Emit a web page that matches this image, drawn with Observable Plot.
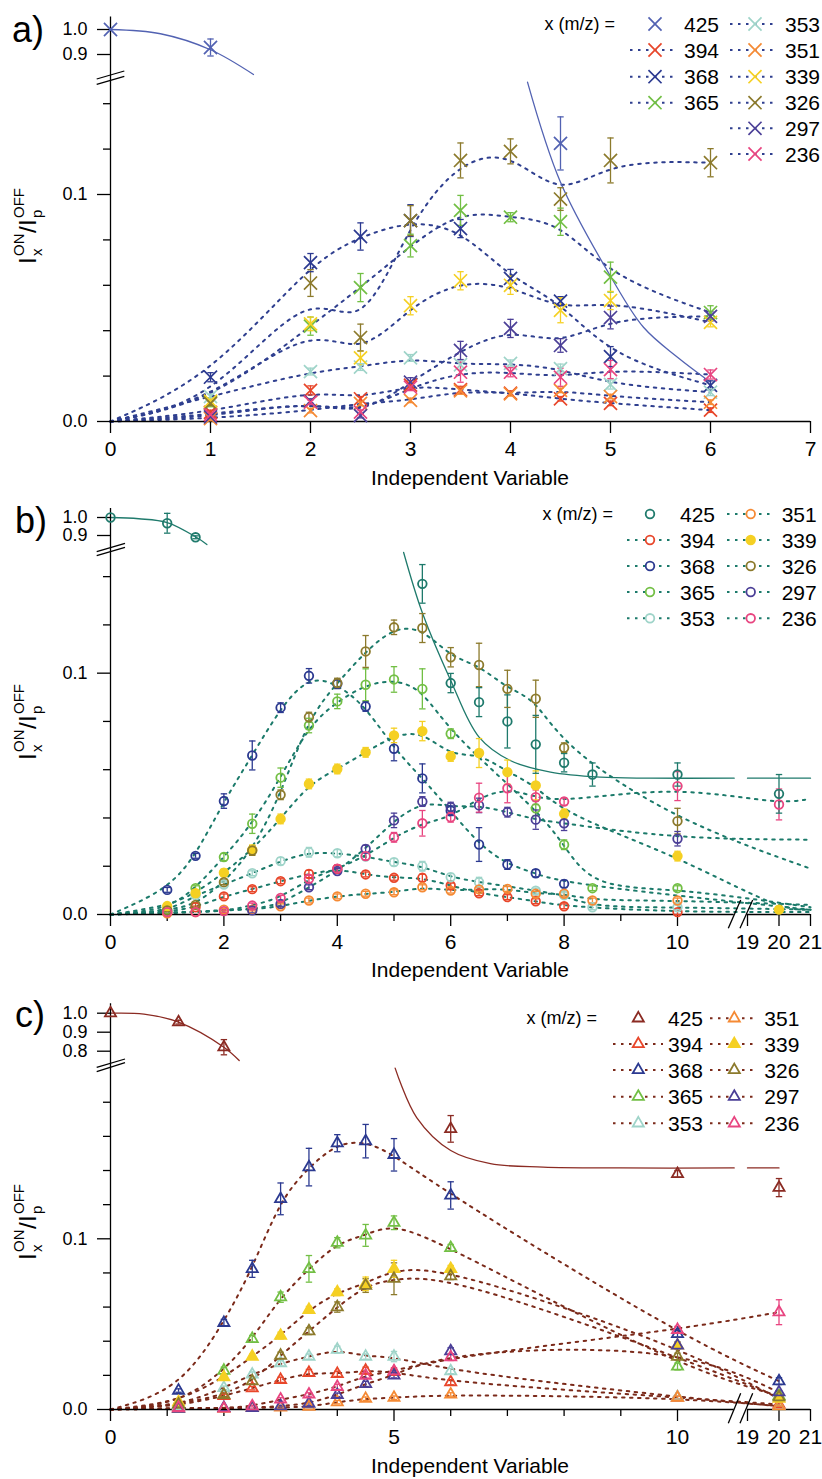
<!DOCTYPE html>
<html><head><meta charset="utf-8">
<script src="https://cdn.jsdelivr.net/npm/d3@7"></script>
<script src="https://cdn.jsdelivr.net/npm/@observablehq/plot@0.6"></script>
<style>
body{margin:0;background:#fff;width:822px;}
#chart svg{display:block;overflow:visible;}
</style></head><body><div id="chart"></div>
<script>
// ---------------- series identity ----------------
const keys9 = ["394","368","365","353","351","339","326","297","236"];
const seriesColor = {"394":"#e8462a","368":"#2b3990","365":"#72bf44","353":"#9fd4c9","351":"#f58a34","339":"#f5d023","326":"#8c7a2c","297":"#4b3f97","236":"#e84580"};
const color425 = {a:"#5262b2", b:"#1f7a6c", c:"#8b2b23"};
const lineColor = {a:"#2f3f8f", b:"#1b7a6a", c:"#7b2a1a"};

// ---------------- panel a ----------------
const aX = [1, 2, 2.5, 3, 3.5, 4, 4.5, 5, 6];
const a394 = [0.004, 0.0137, 0.010, 0.016, 0.014, 0.0125, 0.010, 0.008, 0.005];
const a394e = [0.001,0.002,0.001,0.002,0.0015,0.001,0.001,0.001,0.001];
const a368 = [0.0195, 0.070, 0.0815, 0.0885, 0.085, 0.063, 0.053, 0.0286, 0.0159];
const a368e = [0.002,0.004,0.006,0.007,0.004,0.004,0.002,0.0044,0.002];
const a365 = [0.0085, 0.042, 0.059, 0.0775, 0.093, 0.090, 0.088, 0.0636, 0.048];
const a365e = [0.002,0.004,0.0062,0.005,0.0066,0.002,0.006,0.0066,0.003];
const a353 = [0.011, 0.022, 0.024, 0.028, 0.025, 0.0256, 0.0233, 0.0163, 0.0129];
const a353e = [0.001,0.0015,0.0015,0.0015,0.002,0.0015,0.002,0.002,0.0015];
const a351 = [0.0013, 0.0048, 0.008, 0.0093, 0.0135, 0.0122, 0.0137, 0.011, 0.0085];
const a351e = [0.001,0.001,0.001,0.001,0.0015,0.001,0.001,0.001,0.001];
const a339 = [0.009, 0.043, 0.028, 0.051, 0.062, 0.060, 0.049, 0.0533, 0.0437];
const a339e = [0.001,0.003,0.003,0.004,0.004,0.004,0.0055,0.004,0.002];
const a326 = [0.008, 0.061, 0.037, 0.0885, 0.115, 0.119, 0.098, 0.115, 0.114];
const a326e = [0.001,0.0059,0.0059,0.0066,0.0077,0.0055,0.005,0.0099,0.0062];
const a297 = [0.002, 0.009, 0.0026, 0.0173, 0.0313, 0.041, 0.0335, 0.0458, 0.0463];
const a297e = [0.001,0.001,0.001,0.002,0.004,0.004,0.003,0.005,0.002];
const a236 = [0.003, 0.0085, 0.0041, 0.0151, 0.0217, 0.0217, 0.0195, 0.0229, 0.0207];
const a236e = [0.001,0.001,0.001,0.0015,0.0044,0.002,0.004,0.004,0.002];
const a425X = [0, 1, 4.5];
const a425 = [1.0, 0.928, 0.1225];
const a425e = [0, 0.034, 0.0117];
const a425FitTopX = [0, 0.5, 1.0, 1.43];
const a425FitTop = [1.0, 0.983, 0.919, 0.82];
const a425FitBotX = [4.17, 4.5, 5, 5.33, 5.67, 6];
const a425FitBot = [0.1495, 0.1054, 0.064, 0.0415, 0.0283, 0.0173];

// ---------------- panel b ----------------
const bX = [1, 1.5, 2, 2.5, 3, 3.5, 4, 4.5, 5, 5.5, 6, 6.5, 7, 7.5, 8, 8.5, 10, 20];
const b394 = [0.001, 0.003, 0.0075, 0.0105, 0.0138, 0.0168, 0.0189, 0.0166, 0.0152, 0.0152, 0.012, 0.0088, 0.0072, 0.0055, 0.0034, null, 0.001, null];
const b394e = [0.0005,0.0005,0.001,0.001,0.001,0.0015,0.0015,0.001,0.001,0.0015,0.001,0.001,0.001,0.001,0.001,0,0.001,0];
const b368 = [0.0102, 0.0243, 0.047, 0.0659, 0.0857, 0.0989, 0.0956, 0.0862, 0.0687, 0.0564, 0.043, 0.029, 0.0207, 0.0171, 0.0127, null, null, null];
const b368e = [0.001,0.001,0.003,0.006,0.002,0.003,0.002,0.002,0.005,0.006,0.002,0.007,0.002,0.0015,0.0015,0,0,0];
const b365 = [0.002, 0.0109, 0.0238, 0.0376, 0.0567, 0.0783, 0.0883, 0.0952, 0.0974, 0.0935, 0.0749, null, null, 0.044, 0.0289, 0.0109, 0.0109, null];
const b365e = [0.0005,0.001,0.0015,0.004,0.004,0.003,0.003,0.0066,0.0053,0.0083,0.002,0,0,0.003,0.002,0.001,0.001,0];
const b353 = [0.001, 0.008, 0.0124, 0.0171, 0.0221, 0.0258, 0.0254, 0.024, 0.0217, 0.020, 0.0155, 0.0134, null, 0.0099, 0.008, 0.003, 0.003, null];
const b353e = [0.0005,0.001,0.001,0.001,0.0015,0.002,0.0015,0.0015,0.0015,0.002,0.0015,0.002,0,0.001,0.001,0.001,0.001,0];
const b351 = [0.0005, 0.001, 0.002, 0.002, 0.0034, 0.0058, 0.0075, 0.0086, 0.0092, 0.0113, 0.0099, 0.0104, 0.0106, 0.0086, 0.0086, 0.0058, 0.0058, null];
const b351e = [0,0,0.0005,0.0005,0.001,0.001,0.001,0.001,0.001,0.001,0.001,0.001,0.001,0.001,0.001,0.001,0.001,0];
const b339 = [0.0035, 0.0088, 0.0173, 0.0268, 0.0396, 0.0541, 0.0603, 0.0672, 0.0742, 0.076, 0.0655, 0.0669, 0.059, 0.0535, 0.0417, null, 0.0242, 0.002];
const b339e = [0.001,0.001,0.0015,0.002,0.002,0.002,0.002,0.002,0.003,0.004,0.002,0.006,0.005,0.006,0.002,0,0.002,0.001];
const b326 = [0.0017, 0.004, 0.0134, 0.0265, 0.0496, 0.0818, 0.0959, 0.109, 0.119, 0.1187, 0.1066, 0.1034, 0.0935, 0.0894, 0.0691, null, 0.0387, null];
const b326e = [0.0005,0.001,0.001,0.002,0.002,0.002,0.002,0.0066,0.003,0.006,0.004,0.009,0.0077,0.0077,0.002,0,0.0053,0];
const b297 = [null, null, null, 0.0017, 0.0044, 0.0113, 0.018, 0.0272, 0.039, 0.0468, 0.0445, 0.0452, 0.0424, 0.0393, 0.0378, null, 0.0314, null];
const b297e = [0,0,0,0.001,0.001,0.001,0.001,0.0015,0.003,0.002,0.002,0.003,0.002,0.004,0.003,0,0.003,0];
const b236 = [0.001, 0.001, 0.0014, 0.0037, 0.0069, 0.0148, 0.019, 0.0242, 0.032, 0.0378, 0.0403, 0.0484, 0.0523, 0.0486, 0.0468, null, 0.0532, 0.0456];
const b236e = [0,0,0.0005,0.001,0.001,0.0015,0.0015,0.0015,0.002,0.0053,0.002,0.006,0.006,0.003,0.0015,0,0.006,0.0064];
const bTail = [0.001, 0.002, 0.003, 0.002, 0.004, 0.002, 0.019, 0.031, 0.048]; // fit values at x = 21, order of keys9
const b425X = [0, 1, 1.5, 5.5, 6, 6.5, 7, 7.5, 8, 8.5, 10, 20];
const b425 = [1.0, 0.968, 0.89, 0.137, 0.0959, 0.088, 0.080, 0.0705, 0.0629, 0.058, 0.058, 0.050];
const b425e = [0, 0.055, 0.008, 0.008, 0.004, 0.006, 0.011, 0.012, 0.0038, 0.0048, 0.0048, 0.008];
const b425FitTopX = [0, 0.5, 1, 1.5, 1.7];
const b425FitTop = [1.0, 0.993, 0.972, 0.893, 0.85];
const b425FitBotX = [5.17, 5.5, 6, 6.5, 7.05, 7.76, 8.64, 9.5, 11];
const b425FitBot = [0.15, 0.125, 0.097, 0.0735, 0.0638, 0.059, 0.0569, 0.0565, 0.0565];
const b425FitEndX = [19, 21];
const b425FitEnd = [0.0565, 0.0565];

// ---------------- panel c ----------------
const cX = [1.2, 2, 2.5, 3, 3.5, 4, 4.5, 5, 6, 10, 20];
const c394 = [0.002, 0.008, 0.0125, 0.0174, 0.0215, 0.0209, 0.0228, 0.022, 0.016, 0.007, 0.003];
const c394e = [0.0005,0.001,0.001,0.0015,0.002,0.0015,0.002,0.002,0.0015,0.001,0.001];
const c368 = [0.0111, 0.0508, 0.0824, 0.1234, 0.142, 0.156, 0.1572, 0.1492, 0.1254, 0.0443, 0.0166];
const c368e = [0.001,0.002,0.005,0.0093,0.011,0.005,0.0098,0.0095,0.008,0.002,0.002];
const c365 = [0.003, 0.0228, 0.0414, 0.0658, 0.0824, 0.0977, 0.102, 0.1094, 0.0947, 0.0252, 0.008];
const c365e = [0.001,0.002,0.002,0.003,0.0078,0.003,0.0064,0.004,0.002,0.002,0.001];
const c353 = [0.002, 0.0127, 0.0205, 0.0271, 0.031, 0.0351, 0.031, 0.031, 0.0225, 0.0072, 0.002];
const c353e = [0.0005,0.001,0.0015,0.0015,0.0015,0.002,0.0015,0.003,0.0015,0.001,0.0005];
const c351 = [0.0005, 0.0005, 0.001, 0.0012, 0.0016, 0.0043, 0.0063, 0.0069, 0.0088, 0.0069, 0.002];
const c351e = [0,0,0,0.0005,0.0005,0.001,0.001,0.001,0.001,0.001,0.0005];
const c339 = [0.0043, 0.0189, 0.031, 0.0433, 0.0584, 0.0687, 0.0736, 0.0824, 0.0824, 0.0375, 0.0063];
const c339e = [0.001,0.001,0.0015,0.002,0.002,0.002,0.004,0.005,0.002,0.002,0.001];
const c326 = [0.003, 0.0086, 0.0166, 0.0316, 0.0459, 0.060, 0.0726, 0.0766, 0.0781, 0.031, 0.0072];
const c326e = [0.001,0.001,0.0015,0.002,0.002,0.003,0.004,0.0093,0.002,0.002,0.001];
const c297 = [0.0005, 0.001, 0.001, 0.002, 0.0035, 0.0086, 0.015, 0.020, 0.0342, 0.0375, 0.0101];
const c297e = [0,0,0,0.0005,0.001,0.001,0.0015,0.0015,0.002,0.002,0.001];
const c236 = [0.001, 0.0006, 0.002, 0.0059, 0.0088, 0.0133, 0.0199, 0.0225, 0.0307, 0.0467, 0.057];
const c236e = [0,0,0.0005,0.001,0.001,0.0015,0.0015,0.002,0.002,0.002,0.0073];
const c425X = [0, 1.2, 2, 6, 10, 20];
const c425 = [1.0, 0.953, 0.821, 0.1644, 0.138, 0.130];
const c425e = [0, 0.01, 0.04, 0.0078, 0.002, 0.0053];
const c425FitTopX = [0, 0.59, 1.2, 2, 2.27];
const c425FitTop = [1.0, 0.995, 0.953, 0.821, 0.751];
const c425FitBotX = [5.02, 5.4, 6, 6.7, 7.63, 9, 11];
const c425FitBot = [0.2005, 0.171, 0.1517, 0.144, 0.142, 0.1415, 0.1415];
const c425FitEndX = [19, 20];
const c425FitEnd = [0.1415, 0.1415];

// ---------------- helpers ----------------
function rowsFrom(xs, list, panel) {
  const out = [];
  for (const [key, vals, errs] of list) {
    vals.forEach((v, i) => {
      if (v == null) return;
      const col = key === "425" ? color425[panel] : seriesColor[key];
      const filled = key === "339" && panel !== "a";
      out.push({key, x: xs[i], v, e: errs[i], color: col, fill: filled ? col : "none"});
    });
  }
  return out;
}
function lineRowsFrom(xs, list, tailX, tail) {
  const out = [];
  list.forEach(([key, vals], k) => {
    out.push({key, x: 0, v: 0});
    vals.forEach((v, i) => { if (v != null) out.push({key, x: xs[i], v}); });
    if (tail) out.push({key, x: tailX, v: tail[k]});
  });
  return out;
}
function fitRows(segs) {
  const out = [];
  segs.forEach(([xs, vs], s) => xs.forEach((x, i) => out.push({seg: s, x, v: vs[i]})));
  return out;
}
const capSymbol = {draw(ctx, size) { const w = Math.sqrt(size / Math.PI); ctx.moveTo(-w, 0); ctx.lineTo(w, 0); }};
const d3Sym = {times: d3.symbolTimes, circle: d3.symbolCircle, triangle2: d3.symbolTriangle2};

const listA = [["394",a394,a394e],["368",a368,a368e],["365",a365,a365e],["353",a353,a353e],["351",a351,a351e],["339",a339,a339e],["326",a326,a326e],["297",a297,a297e],["236",a236,a236e]];
const listB = [["394",b394,b394e],["368",b368,b368e],["365",b365,b365e],["353",b353,b353e],["351",b351,b351e],["339",b339,b339e],["326",b326,b326e],["297",b297,b297e],["236",b236,b236e]];
const listC = [["394",c394,c394e],["368",c368,c368e],["365",c365,c365e],["353",c353,c353e],["351",c351,c351e],["339",c339,c339e],["326",c326,c326e],["297",c297,c297e],["236",c236,c236e]];

const cfgs = [
  {id: "a", height: 490, mt: 16.5, mb: 69,
   xDomain: [0, 7], xRange: [110, 810], xSegs: [[0, 7]],
   yDomain: [0, 0.15, 0.81, 1.05], yRange: [421, 80.5, 76.5, 16.5],
   xMajor: [0,1,2,3,4,5,6,7], xMinor: [], yMajor: [0, 0.1, 0.9, 1.0], yMinor: [0.02,0.04,0.06,0.08,0.12,0.14],
   symbol: "times", r: 6, sw: 1.7,
   rows: rowsFrom(aX, listA, "a").concat(rowsFrom(a425X, [["425", a425, a425e]], "a")),
   lines: lineRowsFrom(aX, listA, null, null),
   fits: fitRows([[a425FitTopX, a425FitTop], [a425FitBotX, a425FitBot]]),
   label: ["a)", 12, 42], ytitle: [36, 226], xtitle: 485,
   yBreak: [[96.7,79,124.3,71],[96.7,84.3,124.3,76.3]], xBreak: [],
   leg: {titleX: 615, rows: [24, 50, 76.7, 102.7, 128.3, 154],
         cols: [{l1: 630, l2: 677, s: 655, t: 684}, {l1: 730, l2: 777, s: 755, t: 785}],
         items: [["425",0,0],["394",0,1],["368",0,2],["365",0,3],["353",1,0],["351",1,1],["339",1,2],["326",1,3],["297",1,4],["236",1,5]]}},
  {id: "b", height: 494, mt: 18, mb: 70,
   xDomain: [0, 11, 19, 21], xRange: [110, 733.7, 747, 810], xSegs: [[0, 11], [19, 21]],
   yDomain: [0, 0.15, 0.84, 1.05], yRange: [424, 62, 55.8, 18],
   xMajor: [0,2,4,6,8,10,19,20,21], xMinor: [1,3,5,7,9], yMajor: [0, 0.1, 0.9, 1.0], yMinor: [0.02,0.04,0.06,0.08,0.12,0.14],
   symbol: "circle", r: 4.3, sw: 1.8,
   rows: rowsFrom(bX, listB, "b").concat(rowsFrom(b425X, [["425", b425, b425e]], "b")),
   lines: lineRowsFrom(bX, listB, 21, bTail),
   fits: fitRows([[b425FitTopX, b425FitTop], [b425FitBotX, b425FitBot], [b425FitEndX, b425FitEnd]]),
   label: ["b)", 15, 42.7], ytitle: [36, 232], xtitle: 487,
   yBreak: [[96.7,61.7,125,53.3],[96.7,65.7,125,57.3]], xBreak: [[728.3,438.3,740.7,410],[740,438.3,752.7,410]],
   leg: {titleX: 613, rows: [24, 50, 76, 102, 128.3],
         cols: [{l1: 627, l2: 673, s: 650, t: 680}, {l1: 727, l2: 773, s: 750.7, t: 781.7}],
         items: [["425",0,0],["394",0,1],["368",0,2],["365",0,3],["353",0,4],["351",1,0],["339",1,1],["326",1,2],["297",1,3],["236",1,4]]}},
  {id: "c", height: 495, mt: 19.2, mb: 70,
   xDomain: [0, 11, 19, 21], xRange: [110, 733.7, 747, 810], xSegs: [[0, 11], [19, 21]],
   yDomain: [0, 0.2, 0.75, 1.05], yRange: [425, 83.6, 76.2, 19.2],
   xMajor: [0,5,10,19,20,21], xMinor: [1,2,3,4,6,7,8,9], yMajor: [0, 0.1, 0.8, 0.9, 1.0], yMinor: [0.02,0.04,0.06,0.08,0.12,0.14,0.16,0.18],
   symbol: "triangle2", r: 5.3, sw: 1.8,
   rows: rowsFrom(cX, listC, "c").concat(rowsFrom(c425X, [["425", c425, c425e]], "c")),
   lines: lineRowsFrom(cX, listC, null, null),
   fits: fitRows([[c425FitTopX, c425FitTop], [c425FitBotX, c425FitBot], [c425FitEndX, c425FitEnd]]),
   label: ["c)", 15, 43], ytitle: [36, 238], xtitle: 489,
   yBreak: [[96.7,83.3,125,75],[96.7,87.7,125,78.7]], xBreak: [[728.3,439.3,740.7,409.3],[740,439.3,752.7,409.3]],
   leg: {titleX: 597, rows: [34.3, 60, 86, 112.7, 139.3],
         cols: [{l1: 613, l2: 663, s: 638.3, t: 668}, {l1: 710, l2: 758, s: 734.3, t: 764.3}],
         items: [["425",0,0],["394",0,1],["368",0,2],["365",0,3],["353",0,4],["351",1,0],["339",1,1],["326",1,2],["297",1,3],["236",1,4]]}}
];

const FONT = "'Liberation Sans', Arial, Helvetica, sans-serif";

for (const cfg of cfgs) {
  const lc = lineColor[cfg.id];
  const errRows = cfg.rows.filter(d => d.e > 0);
  const capRows = errRows.flatMap(d => [{x: d.x, v: d.v - d.e, color: d.color}, {x: d.x, v: d.v + d.e, color: d.color}]);
  const plot = Plot.plot({
    width: 822, height: cfg.height,
    marginLeft: 110, marginRight: 12, marginTop: cfg.mt, marginBottom: cfg.mb,
    style: {fontFamily: FONT, fontSize: "20px", background: "white", color: "black"},
    x: {type: "linear", domain: cfg.xDomain, range: cfg.xRange},
    y: {type: "linear", domain: cfg.yDomain, range: cfg.yRange},
    marks: [
      Plot.line(cfg.lines, {x: "x", y: "v", z: "key", stroke: lc, strokeWidth: 2, strokeDasharray: "2.5,5.5", curve: "basis"}),
      Plot.line(cfg.fits, {x: "x", y: "v", z: "seg", stroke: color425[cfg.id], strokeWidth: 1.3, curve: "catmull-rom"}),
      Plot.ruleX([0], {y1: 0, y2: 1.05, stroke: "black", strokeWidth: 1.3}),
      ...cfg.xSegs.map(([a, b]) => Plot.ruleY([0], {x1: a, x2: b, stroke: "black", strokeWidth: 1.3})),
      Plot.axisY({ticks: cfg.yMajor, tickSize: 13, tickPadding: 10, tickFormat: d3.format(".1f"), label: null, fontSize: 18, strokeWidth: 1.3}),
      Plot.axisY({ticks: cfg.yMinor, tickSize: 7, tickFormat: () => "", label: null, strokeWidth: 1.3}),
      Plot.axisX({ticks: cfg.xMajor, tickSize: 12, tickPadding: 8, tickFormat: d => String(d), label: null, fontSize: 21, strokeWidth: 1.3}),
      cfg.xMinor.length ? Plot.axisX({ticks: cfg.xMinor, tickSize: 7, tickFormat: () => "", label: null, strokeWidth: 1.3}) : null,
      Plot.ruleX(errRows, {x: "x", y1: d => d.v - d.e, y2: d => d.v + d.e, stroke: "color", strokeWidth: 1.3}),
      Plot.dot(capRows, {x: "x", y: "v", symbol: capSymbol, r: 3.2, stroke: "color", strokeWidth: 1.3}),
      Plot.dot(cfg.rows, {x: "x", y: "v", symbol: cfg.symbol, r: cfg.r, stroke: "color", fill: "fill", strokeWidth: cfg.sw})
    ]
  });
  const svg = d3.select(plot);
  // panel label
  svg.append("text").attr("x", cfg.label[1]).attr("y", cfg.label[2]).attr("text-anchor", "start").attr("font-size", 36).attr("font-family", FONT).text(cfg.label[0]);
  // x title
  svg.append("text").attr("x", 470).attr("y", cfg.xtitle).attr("text-anchor", "middle").attr("font-size", 21).attr("font-family", FONT).text("Independent Variable");
  // y title: I_x^ON / I_p^OFF (rotated)
  const yt = svg.append("g").attr("transform", `translate(${cfg.ytitle[0]},${cfg.ytitle[1]}) rotate(-90)`).attr("font-family", FONT).attr("text-anchor", "start");
  const parts = [["I", -38, 0, 24], ["x", -30, 6, 15], ["ON", -30, -12, 15], ["/", -7, 0, 24], ["I", 0, 0, 24], ["p", 8, 6, 15], ["OFF", 8, -12, 15]];
  for (const [t, px, py, fs] of parts) yt.append("text").attr("x", px).attr("y", py).attr("font-size", fs).attr("text-anchor", "start").text(t);
  // break marks
  for (const [x1, y1, x2, y2] of cfg.yBreak.concat(cfg.xBreak))
    svg.append("line").attr("x1", x1).attr("y1", y1).attr("x2", x2).attr("y2", y2).attr("stroke", "black").attr("stroke-width", 1.3);
  // legend
  const L = cfg.leg, lg = svg.append("g").attr("font-family", FONT).attr("text-anchor", "start");
  lg.append("text").attr("x", L.titleX).attr("y", L.rows[0] + 6).attr("text-anchor", "end").attr("font-size", 18).text("x (m/z) =");
  for (const [key, ci, ri] of L.items) {
    const c = L.cols[ci], y = L.rows[ri];
    const col = key === "425" ? color425[cfg.id] : seriesColor[key];
    if (key !== "425") lg.append("line").attr("x1", c.l1).attr("x2", c.l2).attr("y1", y).attr("y2", y)
      .attr("stroke", lc).attr("stroke-width", 2).attr("stroke-dasharray", "2.5,5.5");
    const filled = key === "339" && cfg.id !== "a";
    lg.append("path").attr("d", d3.symbol(d3Sym[cfg.symbol], Math.PI * cfg.r * cfg.r)())
      .attr("transform", `translate(${c.s},${y})`).attr("stroke", col).attr("stroke-width", cfg.sw)
      .attr("fill", filled ? col : "white");
    lg.append("text").attr("x", c.t).attr("y", y + 7.5).attr("text-anchor", "start").attr("font-size", 21).text(key);
  }
  document.getElementById("chart").appendChild(plot);
}
</script></body></html>
